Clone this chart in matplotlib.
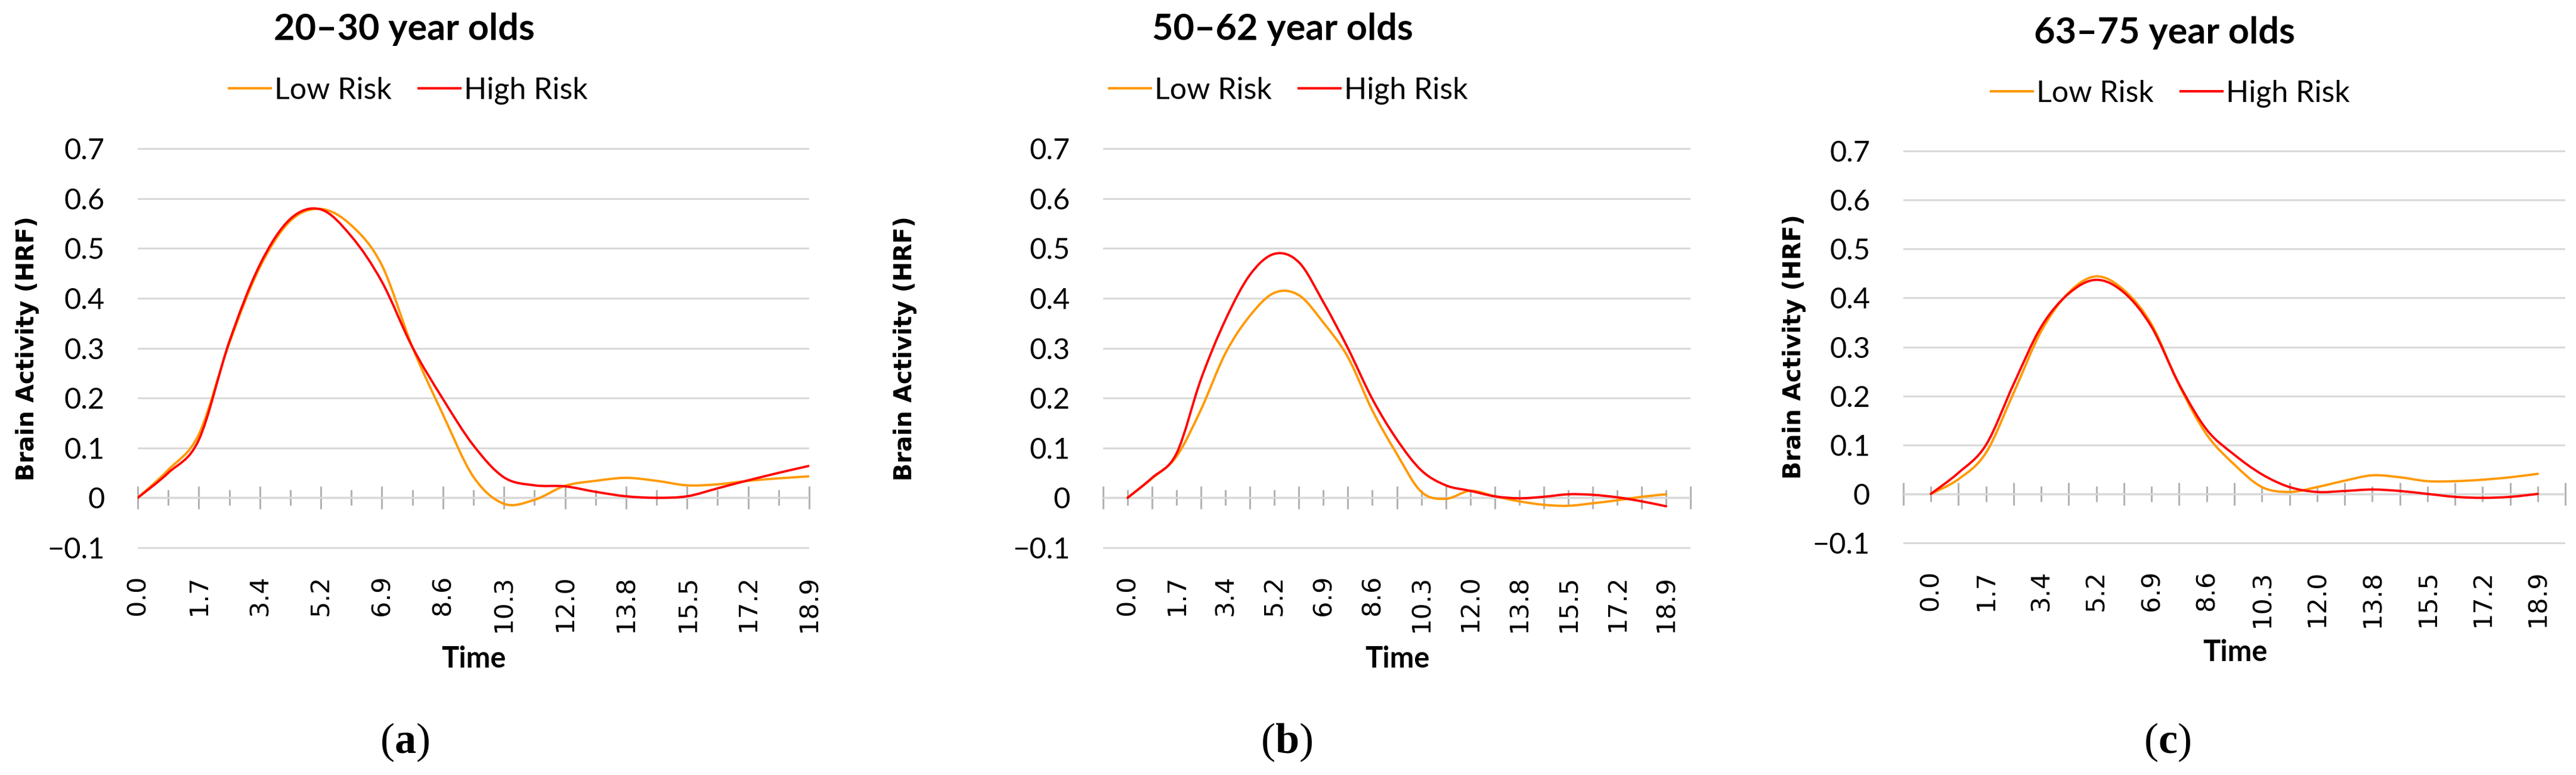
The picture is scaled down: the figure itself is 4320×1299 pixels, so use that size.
import matplotlib
matplotlib.use('Agg')
import matplotlib.pyplot as plt
from matplotlib.path import Path
from matplotlib.patches import PathPatch
from matplotlib.lines import Line2D

time_points = [0.00, 0.86, 1.72, 2.58, 3.44, 4.30, 5.16, 6.02, 6.88, 7.74, 8.60, 9.46,
               10.32, 11.18, 12.04, 12.90, 13.76, 14.62, 15.48, 16.34, 17.20, 18.06, 18.92]
tick_labels = ['0.0', '1.7', '3.4', '5.2', '6.9', '8.6', '10.3', '12.0', '13.8', '15.5', '17.2', '18.9']

group_titles = ['20–30 year olds', '50–62 year olds', '63–75 year olds']
panel_letters = ['a', 'b', 'c']
series_names = ['Low Risk', 'High Risk']

low_20_30 = [0.0, 0.056, 0.127, 0.310, 0.462, 0.555, 0.579, 0.546, 0.466, 0.302, 0.167, 0.042,
             -0.012, -0.004, 0.024, 0.034, 0.040, 0.034, 0.025, 0.027, 0.034, 0.039, 0.043]
high_20_30 = [0.0, 0.050, 0.116, 0.313, 0.467, 0.559, 0.578, 0.524, 0.433, 0.302, 0.198, 0.105,
              0.041, 0.025, 0.023, 0.012, 0.003, 0.0, 0.003, 0.019, 0.035, 0.050, 0.064]

low_50_62 = [0.0, 0.039, 0.083, 0.177, 0.290, 0.365, 0.411, 0.406, 0.351, 0.282, 0.175, 0.088,
             0.012, -0.002, 0.014, 0.003, -0.007, -0.014, -0.016, -0.011, -0.005, 0.002, 0.007]
high_50_62 = [0.0, 0.040, 0.089, 0.238, 0.357, 0.447, 0.489, 0.472, 0.392, 0.300, 0.198, 0.117,
              0.055, 0.025, 0.014, 0.003, -0.001, 0.002, 0.007, 0.006, 0.001, -0.007, -0.017]

low_63_75 = [0.0, 0.030, 0.084, 0.206, 0.332, 0.411, 0.444, 0.416, 0.346, 0.222, 0.121, 0.060,
             0.014, 0.004, 0.014, 0.027, 0.038, 0.034, 0.026, 0.026, 0.029, 0.034, 0.041]
high_63_75 = [0.0, 0.043, 0.100, 0.224, 0.341, 0.409, 0.437, 0.411, 0.341, 0.224, 0.131, 0.080,
              0.040, 0.014, 0.004, 0.006, 0.009, 0.006, 0.0, -0.006, -0.008, -0.006, 0.0]

panel_data = [(low_20_30, high_20_30), (low_50_62, high_50_62), (low_63_75, high_63_75)]

LOW_COLOR = '#FF9900'
HIGH_COLOR = '#FF0000'
GRID_COLOR = '#D9D9D9'
AXIS_COLOR = '#B3B3B3'

W, H = 4320, 1299
Y_MIN, Y_MAX = -0.1, 0.7
Y_PAD = 0.01

# pixel geometry of each panel: x of first/last sample, y of 0.7 and -0.1 lines,
# whether the category axis has one empty slot on each side, and text anchors
layout = [
    dict(x0=231, x1=1357, y_top=249, y_bot=918, padded=False, title=(678, 67),
         legend=(685, 152), ylabel=(46, 584), xlabel=(794, 1119), letter=(679, 1262)),
    dict(x0=1891, x1=2794, y_top=249, y_bot=918, padded=True, title=(2151, 67),
         legend=(2161, 152), ylabel=(1518, 584), xlabel=(2343, 1119), letter=(2158, 1262)),
    dict(x0=3238, x1=4256, y_top=253, y_bot=910, padded=True, title=(3630, 73),
         legend=(3640, 157), ylabel=(3009, 581), xlabel=(3748, 1108), letter=(3635, 1262)),
]

plt.rcParams['mathtext.fontset'] = 'custom'
plt.rcParams['mathtext.rm'] = 'Liberation Serif'
plt.rcParams['mathtext.bf'] = 'Liberation Serif:bold'


def smooth_path(x, y):
    # Excel-style smoothed line: cubic Bezier segments through every point
    verts = [(x[0], y[0])]
    codes = [Path.MOVETO]
    n = len(x)
    for i in range(n - 1):
        i0 = max(i - 1, 0)
        i3 = min(i + 2, n - 1)
        c1 = (x[i] + (x[i + 1] - x[i0]) / 6, y[i] + (y[i + 1] - y[i0]) / 6)
        c2 = (x[i + 1] - (x[i3] - x[i]) / 6, y[i + 1] - (y[i3] - y[i]) / 6)
        verts += [c1, c2, (x[i + 1], y[i + 1])]
        codes += [Path.CURVE4] * 3
    return Path(verts, codes)


def fx(x):
    return x / W


def fy(y):
    return 1 - y / H


fig = plt.figure(figsize=(W / 100, H / 100), dpi=100)

step = time_points[1] - time_points[0]
t_first, t_last = time_points[0], time_points[-1]

for k, geo in enumerate(layout):
    if geo['padded']:
        xlim = (t_first - step, t_last + step)
    else:
        xlim = (t_first, t_last)
    px_per_t = (geo['x1'] - geo['x0']) / (t_last - t_first)
    px_per_v = (geo['y_bot'] - geo['y_top']) / (Y_MAX - Y_MIN)
    left = geo['x0'] + (xlim[0] - t_first) * px_per_t
    right = geo['x0'] + (xlim[1] - t_first) * px_per_t
    top = geo['y_top'] - Y_PAD * px_per_v
    bottom = geo['y_bot'] + Y_PAD * px_per_v
    ax = fig.add_axes([fx(left), fy(bottom), (right - left) / W, (bottom - top) / H])
    ax.set_xlim(*xlim)
    ax.set_ylim(Y_MIN - Y_PAD, Y_MAX + Y_PAD)
    for s in ax.spines.values():
        s.set_visible(False)

    yticks = [-0.1, 0.0, 0.1, 0.2, 0.3, 0.4, 0.5, 0.6, 0.7]
    ax.set_yticks(yticks)
    ax.set_yticklabels(['\u22120.1', '0', '0.1', '0.2', '0.3', '0.4', '0.5', '0.6', '0.7'],
                       family='Lato', fontsize=35)
    ax.yaxis.grid(True, color=GRID_COLOR, linewidth=2.2)
    ax.set_axisbelow(True)
    ax.tick_params(axis='y', length=0, pad=40)

    label_pos = time_points[::2]
    ax.set_xticks(label_pos)
    ax.set_xticklabels(tick_labels, rotation=90, family='DejaVu Sans', fontsize=31)
    ax.tick_params(axis='x', length=0, pad=27)

    # category axis drawn at y = 0 with major/minor tick marks
    zero_frac = (0 - (Y_MIN - Y_PAD)) / ((Y_MAX + Y_PAD) - (Y_MIN - Y_PAD))
    sec = ax.secondary_xaxis(zero_frac)
    if geo['padded']:
        major = [t_first - step] + time_points[1::2] + [t_last + step]
        minor = time_points[::2]
    else:
        major = time_points[::2]
        minor = time_points[1::2]
    sec.set_xticks(major)
    sec.set_xticks(minor, minor=True)
    sec.tick_params(which='both', direction='inout', labelbottom=False,
                    color=AXIS_COLOR, width=2.2)
    sec.tick_params(which='major', length=28)
    sec.tick_params(which='minor', length=19)
    sec.spines['bottom'].set_color(AXIS_COLOR)
    sec.spines['bottom'].set_linewidth(2.4)

    low, high = panel_data[k]
    for vals, color in [(low, LOW_COLOR), (high, HIGH_COLOR)]:
        patch = PathPatch(smooth_path(time_points, vals), fill=False, edgecolor=color,
                          linewidth=2.8, capstyle='round', joinstyle='round', zorder=3)
        ax.add_patch(patch)

    handles = [Line2D([], [], color=LOW_COLOR, linewidth=3),
               Line2D([], [], color=HIGH_COLOR, linewidth=3)]
    ax.legend(handles, series_names, loc='center',
              bbox_to_anchor=(fx(geo['legend'][0]), fy(geo['legend'][1])),
              bbox_transform=fig.transFigure, ncol=2, frameon=False,
              prop={'family': 'Lato', 'size': 36}, handlelength=1.4,
              handletextpad=0.12, columnspacing=0.9, borderpad=0, borderaxespad=0)

    fig.text(fx(geo['title'][0]), fy(geo['title'][1]), group_titles[k], ha='center',
             va='baseline', family='Lato', fontweight='bold', fontsize=44)
    fig.text(fx(geo['ylabel'][0]), fy(geo['ylabel'][1]), 'Brain Activity (HRF)',
             rotation=90, ha='center', va='center', family='DejaVu Sans',
             fontweight='bold', fontsize=28.5)
    fig.text(fx(geo['xlabel'][0]), fy(geo['xlabel'][1]), 'Time', ha='center',
             va='baseline', family='Lato', fontweight='bold', fontsize=35)
    fig.text(fx(geo['letter'][0]), fy(geo['letter'][1]),
             '($\\mathbf{' + panel_letters[k] + '}$)', ha='center', va='baseline',
             family='Liberation Serif', fontsize=52)

fig.savefig('out.png', dpi=100)
